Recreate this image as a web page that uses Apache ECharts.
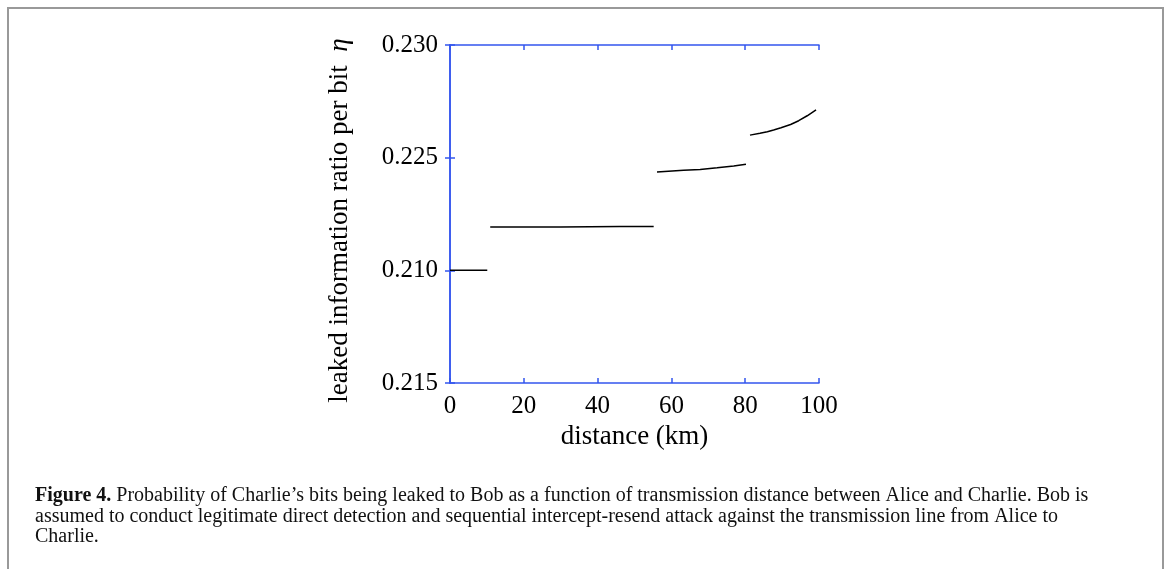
<!DOCTYPE html>
<html>
<head>
<meta charset="utf-8">
<title>Figure 4</title>
<style>
  html, body { margin: 0; padding: 0; background: #fff; }
  #main { width: 1170px; height: 569px; }
</style>
</head>
<body>
<div id="main"></div>
<script src="https://cdn.jsdelivr.net/npm/echarts@6/dist/echarts.min.js"></script>
<script>
// data (distance in km, leaked ratio)
var seg1X = [0, 10.1];
var seg1Y = [0.22000, 0.22000];
var seg2X = [10.9, 30, 46, 55.2];
var seg2Y = [0.22192, 0.22192, 0.22194, 0.22195];
var seg3X = [56.1, 63.3, 67.8, 72.4, 76.9, 80.2];
var seg3Y = [0.22436, 0.22444, 0.22448, 0.22455, 0.22463, 0.22471];
var seg4X = [81.3, 84.0, 86.0, 87.7, 89.7, 92.3, 94.5, 96.8, 99.2];
var seg4Y = [0.22600, 0.22608, 0.22615, 0.22623, 0.22633, 0.22647, 0.22664, 0.22686, 0.22712];

// tick labels as printed in the figure (bottom to top)
var yTickLabels = ['0.215', '0.210', '0.225', '0.230'];
var xTicks = [0, 20, 40, 60, 80, 100];

var captionLines = [
  '{b|Figure 4.} Probability of Charlie\u2019s bits being leaked to Bob as a function of transmission distance between Alice and Charlie. Bob is',
  'assumed to conduct legitimate direct detection and sequential intercept-resend attack against the transmission line from Alice to',
  'Charlie.'
];

function pairs(xs, ys) {
  var out = [];
  for (var i = 0; i < xs.length; i++) out.push([xs[i], ys[i]]);
  return out;
}

var axisBlue = '#3355ee';
var serif = 'Liberation Serif';

var myChart = echarts.init(document.getElementById('main'));

var segs = [[seg1X, seg1Y], [seg2X, seg2Y], [seg3X, seg3Y], [seg4X, seg4Y]];
var seriess = segs.map(function (s) {
  return {
    type: 'line',
    data: pairs(s[0], s[1]),
    showSymbol: false,
    lineStyle: { color: '#000', width: 1.5 },
    animation: false
  };
});

var axisCommon = {
  axisLine: { show: true, lineStyle: { color: axisBlue, width: 1.5 } },
  axisTick: { show: true, inside: true, length: 5, lineStyle: { color: axisBlue, width: 1.5 } },
  splitLine: { show: false }
};

myChart.setOption({
  animation: false,
  grid: { left: 450, right: 351, top: 45, bottom: 186 },
  xAxis: [
    Object.assign({
      type: 'value', min: 0, max: 100, interval: 20, position: 'bottom',
      name: 'distance (km)', nameLocation: 'middle', nameGap: 40,
      nameTextStyle: { fontFamily: serif, fontSize: 27, color: '#000' },
      axisLabel: { fontFamily: serif, fontSize: 25, color: '#000', margin: 11,
        formatter: function (v) { return xTicks.indexOf(v) >= 0 ? String(v) : ''; } }
    }, axisCommon),
    Object.assign({
      type: 'value', min: 0, max: 100, interval: 20, position: 'top',
      axisLabel: { show: false }
    }, axisCommon)
  ],
  yAxis: [
    Object.assign({
      type: 'value', min: 0.215, max: 0.230, interval: 0.005, position: 'left',
      name: '{a|leaked information ratio per bit  }{e|\u03b7}{p|}',
      nameLocation: 'middle', nameGap: 97,
      nameTextStyle: {
        fontFamily: serif, fontSize: 27, color: '#000',
        rich: {
          a: { fontFamily: serif, fontSize: 27, color: '#000' },
          e: { fontFamily: serif, fontSize: 27, color: '#000', fontStyle: 'italic' },
          p: { width: 13 }
        }
      },
      axisLabel: { fontFamily: serif, fontSize: 25, color: '#000', margin: 12,
        formatter: function (v) {
          var k = Math.round((v - 0.215) / 0.005);
          return yTickLabels[k] || '';
        } }
    }, axisCommon),
    Object.assign({
      type: 'value', min: 0.215, max: 0.230, interval: 0.005, position: 'right',
      axisLabel: { show: false }
    }, axisCommon)
  ],
  series: seriess,
  graphic: [
    {
      type: 'rect', z: -1, silent: true,
      shape: { x: 8, y: 8, width: 1155, height: 620 },
      style: { fill: 'none', stroke: '#999', lineWidth: 2 }
    }
  ].concat(captionLines.map(function (t, i) {
    return {
      type: 'text', x: 35, y: 496 + i * 20.5,
      style: {
        text: t, fill: '#111', font: '20px "Liberation Serif"',
        verticalAlign: 'middle',
        rich: {
          b: { fontFamily: serif, fontSize: 20, fontWeight: 'bold', fill: '#111' }
        }
      }
    };
  }))
});
</script>
</body>
</html>
